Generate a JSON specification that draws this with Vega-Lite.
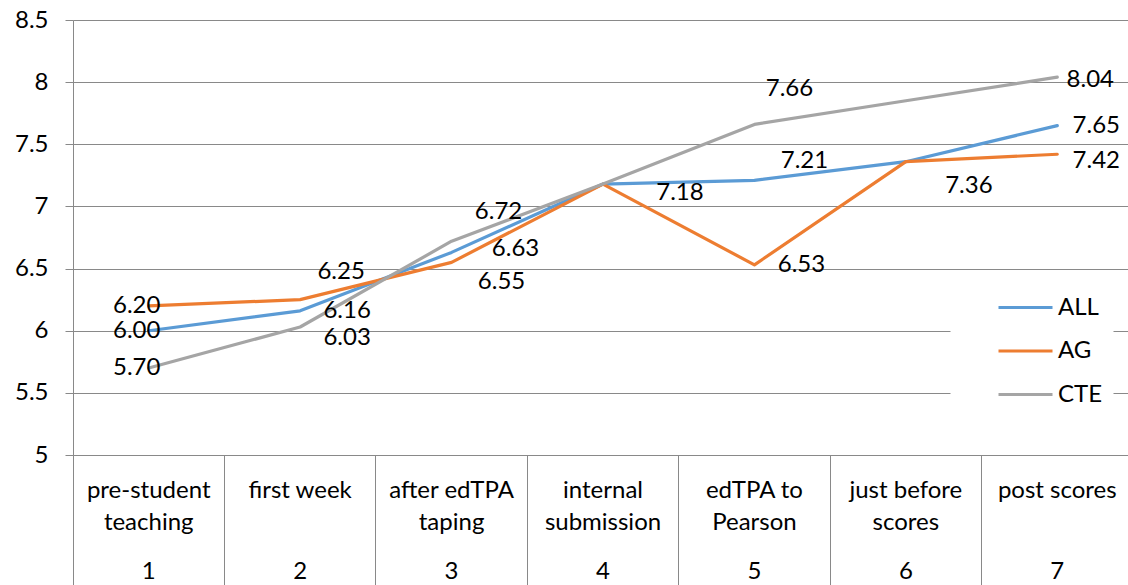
{
  "$schema": "https://vega.github.io/schema/vega-lite/v6.json",
  "width": 1055,
  "height": 435,
  "autosize": {"type": "none"},
  "padding": {"left": 73, "top": 20, "right": 0, "bottom": 130},
  "background": "white",
  "config": {
    "font": "Lato",
    "view": {"stroke": null},
    "axis": {"labelFont": "Lato", "labelFontSize": 24, "labelColor": "#000", "domainColor": "#898989", "tickColor": "#898989", "gridColor": "#898989", "domainWidth": 1, "tickWidth": 1, "gridWidth": 1},
    "text": {"font": "Lato", "fontSize": 24, "fill": "#000", "align": "center", "baseline": "middle"}
  },
  "data": {
    "values": [
      {"stage": "1|pre-student|teaching", "step": 1, "series": "ALL", "value": 6.00},
      {"stage": "2|first week", "step": 2, "series": "ALL", "value": 6.16},
      {"stage": "3|after edTPA|taping", "step": 3, "series": "ALL", "value": 6.63},
      {"stage": "4|internal|submission", "step": 4, "series": "ALL", "value": 7.18},
      {"stage": "5|edTPA to|Pearson", "step": 5, "series": "ALL", "value": 7.21},
      {"stage": "6|just before|scores", "step": 6, "series": "ALL", "value": 7.36},
      {"stage": "7|post scores", "step": 7, "series": "ALL", "value": 7.65},
      {"stage": "1|pre-student|teaching", "step": 1, "series": "AG", "value": 6.20},
      {"stage": "2|first week", "step": 2, "series": "AG", "value": 6.25},
      {"stage": "3|after edTPA|taping", "step": 3, "series": "AG", "value": 6.55},
      {"stage": "4|internal|submission", "step": 4, "series": "AG", "value": 7.18},
      {"stage": "5|edTPA to|Pearson", "step": 5, "series": "AG", "value": 6.53},
      {"stage": "6|just before|scores", "step": 6, "series": "AG", "value": 7.36},
      {"stage": "7|post scores", "step": 7, "series": "AG", "value": 7.42},
      {"stage": "1|pre-student|teaching", "step": 1, "series": "CTE", "value": 5.70},
      {"stage": "2|first week", "step": 2, "series": "CTE", "value": 6.03},
      {"stage": "3|after edTPA|taping", "step": 3, "series": "CTE", "value": 6.72},
      {"stage": "4|internal|submission", "step": 4, "series": "CTE", "value": 7.18},
      {"stage": "5|edTPA to|Pearson", "step": 5, "series": "CTE", "value": 7.66},
      {"stage": "6|just before|scores", "step": 6, "series": "CTE", "value": 7.85},
      {"stage": "7|post scores", "step": 7, "series": "CTE", "value": 8.04}
    ]
  },
  "encoding": {
    "x": {"field": "stage", "type": "ordinal", "scale": {"type": "band", "paddingInner": 0, "paddingOuter": 0, "range": [0, 1060]}, "axis": null},
    "y": {"field": "value", "type": "quantitative", "scale": {"domain": [5, 8.5], "nice": false, "zero": false},
      "axis": {"values": [5, 5.5, 6, 6.5, 7, 7.5, 8, 8.5], "format": "~g", "grid": true, "domain": true, "ticks": true, "tickSize": 8, "labelPadding": 17, "title": null}}
  },
  "layer": [
    {
      "mark": {"type": "line", "strokeWidth": 3.2, "strokeJoin": "round", "strokeCap": "round"},
      "encoding": {
        "x": {"field": "stage", "type": "ordinal", "scale": {"type": "band", "paddingInner": 0, "paddingOuter": 0, "range": [0, 1060]},
          "axis": {"orient": "bottom", "labels": false, "ticks": true, "tickSize": 131, "bandPosition": 0, "domain": true, "grid": false, "title": null}},
        "color": {"field": "series", "type": "nominal", "scale": {"domain": ["ALL", "AG", "CTE"], "range": ["#5B9BD5", "#ED7D31", "#A5A5A5"]},
          "legend": {"orient": "none", "legendX": 877, "legendY": 262, "title": null, "padding": 10, "fillColor": "white", "strokeColor": "transparent",
            "symbolType": "M-2,0H2", "symbolSize": 729, "symbolStrokeWidth": 3.2, "symbolFillColor": "transparent", "symbolOffset": 50, "labelOffset": 17, "rowPadding": 15.5,
            "labelFont": "Lato", "labelFontSize": 24, "labelColor": "#000", "labelExpr": "datum.label + '\u00a0\u00a0\u00a0\u00a0\u00a0\u00a0'"}}
      }
    },
    {
      "transform": [{"filter": "datum.step == 1"}],
      "mark": {"type": "text", "dx": -12, "dy": 0},
      "encoding": {
        "text": {"field": "value", "type": "quantitative", "format": ".2f"},
        "x": {"field": "stage", "type": "ordinal", "scale": {"type": "band", "paddingInner": 0, "paddingOuter": 0, "range": [0, 1060]},
          "axis": {"orient": "bottom", "ticks": false, "tickSize": 0, "domain": false, "grid": false, "labelExpr": "slice(split(datum.value, '|'), 1)", "labelPadding": 23, "labelLineHeight": 32, "labelAngle": 0, "labelOverlap": false, "title": null}}
      }
    },
    {
      "transform": [{"filter": "datum.step == 2 && datum.series == 'AG'"}],
      "mark": {"type": "text", "dx": 41, "dy": -28},
      "encoding": {
        "text": {"field": "value", "type": "quantitative", "format": ".2f"},
        "x": {"field": "stage", "type": "ordinal", "scale": {"type": "band", "paddingInner": 0, "paddingOuter": 0, "range": [0, 1060]},
          "axis": {"orient": "bottom", "ticks": false, "tickSize": 0, "domain": false, "grid": false, "labelExpr": "split(datum.value, '|')[0]", "labelPadding": 104, "labelAngle": 0, "labelOverlap": false, "title": null}}
      }
    },
    {
      "transform": [{"filter": "(datum.step == 2 && datum.series == 'ALL') || (datum.step == 5 && datum.series == 'AG')"}],
      "mark": {"type": "text", "dx": 47, "dy": 0},
      "encoding": {"text": {"field": "value", "type": "quantitative", "format": ".2f"}}
    },
    {
      "transform": [{"filter": "datum.step == 2 && datum.series == 'CTE'"}],
      "mark": {"type": "text", "dx": 47, "dy": 11},
      "encoding": {"text": {"field": "value", "type": "quantitative", "format": ".2f"}}
    },
    {
      "transform": [{"filter": "datum.step == 3 && datum.series == 'CTE'"}],
      "mark": {"type": "text", "dx": 47, "dy": -29},
      "encoding": {"text": {"field": "value", "type": "quantitative", "format": ".2f"}}
    },
    {
      "transform": [{"filter": "datum.step == 3 && datum.series == 'ALL'"}],
      "mark": {"type": "text", "dx": 64, "dy": -3},
      "encoding": {"text": {"field": "value", "type": "quantitative", "format": ".2f"}}
    },
    {
      "transform": [{"filter": "datum.step == 3 && datum.series == 'AG'"}],
      "mark": {"type": "text", "dx": 50, "dy": 20},
      "encoding": {"text": {"field": "value", "type": "quantitative", "format": ".2f"}}
    },
    {
      "transform": [{"filter": "datum.step == 4 && datum.series == 'ALL'"}],
      "mark": {"type": "text", "dx": 77, "dy": 9},
      "encoding": {"text": {"field": "value", "type": "quantitative", "format": ".2f"}}
    },
    {
      "transform": [{"filter": "datum.step == 5 && datum.series == 'CTE'"}],
      "mark": {"type": "text", "dx": 35, "dy": -35},
      "encoding": {"text": {"field": "value", "type": "quantitative", "format": ".2f"}}
    },
    {
      "transform": [{"filter": "datum.step == 5 && datum.series == 'ALL'"}],
      "mark": {"type": "text", "dx": 50, "dy": -19},
      "encoding": {"text": {"field": "value", "type": "quantitative", "format": ".2f"}}
    },
    {
      "transform": [{"filter": "datum.step == 6 && datum.series == 'AG'"}],
      "mark": {"type": "text", "dx": 63, "dy": 24},
      "encoding": {"text": {"field": "value", "type": "quantitative", "format": ".2f"}}
    },
    {
      "transform": [{"filter": "datum.step == 7 && datum.series == 'CTE'"}],
      "mark": {"type": "text", "dx": 33, "dy": 3},
      "encoding": {"text": {"field": "value", "type": "quantitative", "format": ".2f"}}
    },
    {
      "transform": [{"filter": "datum.step == 7 && datum.series == 'ALL'"}],
      "mark": {"type": "text", "dx": 39, "dy": 0},
      "encoding": {"text": {"field": "value", "type": "quantitative", "format": ".2f"}}
    },
    {
      "transform": [{"filter": "datum.step == 7 && datum.series == 'AG'"}],
      "mark": {"type": "text", "dx": 39, "dy": 7},
      "encoding": {"text": {"field": "value", "type": "quantitative", "format": ".2f"}}
    }
  ],
  "resolve": {"axis": {"x": "independent"}}
}
